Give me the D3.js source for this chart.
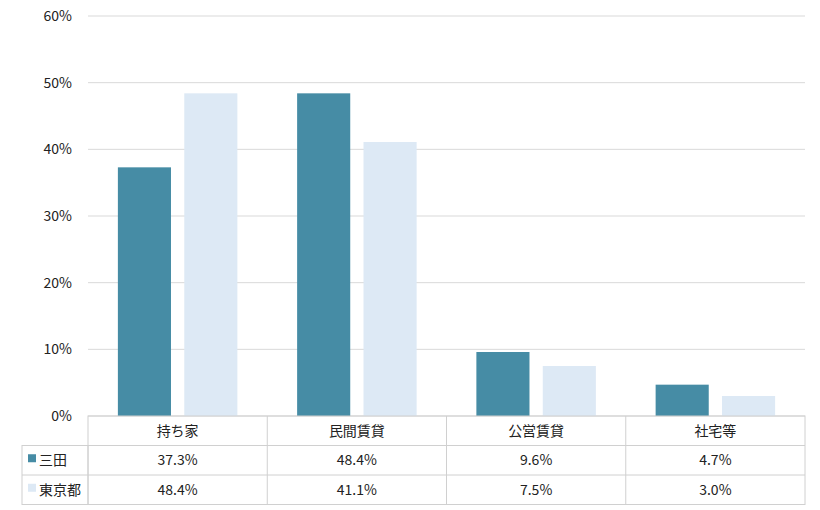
<!DOCTYPE html>
<html><head><meta charset="utf-8">
<script src="https://cdn.jsdelivr.net/npm/d3@7"></script>
<style>body{margin:0;background:#fff}text{font-family:"Noto Sans CJK JP","Noto Sans",sans-serif;fill:#222}</style>
</head><body><svg id="c" width="820" height="510"></svg>
<script>
const categories = ["持ち家", "民間賃貸", "公営賃貸", "社宅等"];
const seriesNames = ["三田", "東京都"];
const mita = [37.3, 48.4, 9.6, 4.7];
const tokyo = [48.4, 41.1, 7.5, 3.0];
const yTicks = [0, 10, 20, 30, 40, 50, 60];
const colors = ["#468ca5", "#dde9f5"];

const plotLeft = 88, plotRight = 805, plotTop = 16, plotBottom = 416;
const svg = d3.select("#c");
const x = d3.scaleBand().domain(categories).range([plotLeft, plotRight]);
const y = d3.scaleLinear().domain([0, 60]).range([plotBottom, plotTop]);
const xs = d3.scaleBand().domain(seriesNames).range([0, x.bandwidth()]).paddingInner(0.2).paddingOuter(0.45);

svg.append("g").selectAll("line").data(yTicks).join("line")
  .attr("x1", plotLeft).attr("x2", plotRight).attr("y1", d => y(d)).attr("y2", d => y(d))
  .attr("stroke", "#d9d9d9");
svg.append("g").selectAll("text").data(yTicks).join("text")
  .attr("x", 72).attr("y", d => y(d) + 5).attr("text-anchor", "end")
  .attr("font-size", 14).text(d => d + "%");

[mita, tokyo].forEach((vals, si) => {
  svg.append("g").selectAll("rect").data(vals).join("rect")
    .attr("x", (d, i) => x(categories[i]) + xs(seriesNames[si]))
    .attr("width", xs.bandwidth())
    .attr("y", d => y(d)).attr("height", d => plotBottom - y(d))
    .attr("fill", colors[si]);
});

// data table
const rowH = 29.5, t0 = plotBottom;
const g = svg.append("g").attr("stroke", "#d0d0d0").attr("fill", "none");
g.append("rect").attr("x", plotLeft).attr("y", t0).attr("width", plotRight - plotLeft).attr("height", rowH * 3);
g.append("rect").attr("x", 22).attr("y", t0 + rowH).attr("width", plotLeft - 22).attr("height", rowH * 2);
g.append("line").attr("x1", 22).attr("x2", plotRight).attr("y1", t0 + rowH).attr("y2", t0 + rowH);
g.append("line").attr("x1", 22).attr("x2", plotRight).attr("y1", t0 + rowH * 2).attr("y2", t0 + rowH * 2);
categories.slice(1).forEach(c => g.append("line").attr("x1", x(c)).attr("x2", x(c)).attr("y1", t0).attr("y2", t0 + rowH * 3));

svg.append("g").selectAll("text").data(categories).join("text")
  .attr("x", d => x(d) + x.bandwidth() / 2).attr("y", t0 + rowH / 2 + 5)
  .attr("text-anchor", "middle").attr("font-size", 14).text(d => d);
[mita, tokyo].forEach((vals, si) => {
  const cy = t0 + rowH * (si + 1) + rowH / 2;
  svg.append("rect").attr("x", 28).attr("y", cy - 6).attr("width", 8).attr("height", 8).attr("fill", colors[si]);
  svg.append("text").attr("x", 39).attr("y", cy + 5).attr("font-size", 14).text(seriesNames[si]);
  svg.append("g").selectAll("text").data(vals).join("text")
    .attr("x", (d, i) => x(categories[i]) + x.bandwidth() / 2).attr("y", cy + 5)
    .attr("text-anchor", "middle").attr("font-size", 14).text(d => d.toFixed(1) + "%");
});
</script></body></html>
